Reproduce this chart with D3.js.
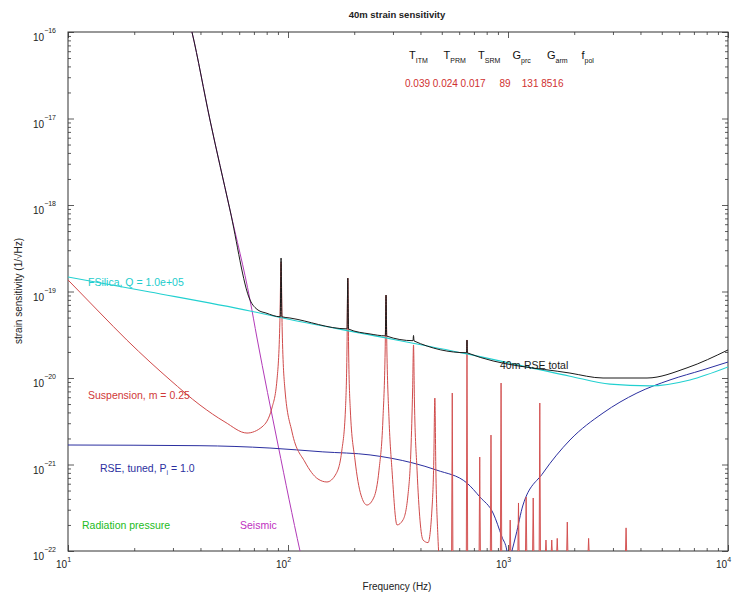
<!DOCTYPE html>
<html>
<head>
<meta charset="utf-8">
<script src="https://cdn.jsdelivr.net/npm/d3@7"></script>
<style>
  html, body { margin: 0; padding: 0; background: #fff; }
  svg text { font-family: "Liberation Sans", Arial, Helvetica, sans-serif; }
</style>
</head>
<body>
<svg id="chart" width="736" height="597"></svg>
<script>
// Axis decades
const xDecades = [1, 2, 3, 4];
const yDecades = [-22, -21, -20, -19, -18, -17, -16];

// Total noise (black), with violin-mode spikes
const totalFreq = [35.5, 36.6, 44.2, 54.5, 67.2, 73.1, 79.4, 92.2, 93, 93.8, 102, 185.5, 187, 188.5,
  236, 277, 279, 281, 370, 372, 374, 648, 651, 654, 1913, 2704, 4285, 6511, 10000];
const totalStrain = [1.38e-16, 1e-16, 9.6e-18, 8.75e-19, 7.98e-20, 6.1e-20, 5.64e-20, 5.1e-20, 2.44e-19, 5.1e-20,
  4.94e-20, 3.7e-20, 1.43e-19, 3.68e-20, 3.23e-20, 3.07e-20, 9.1e-20, 3.05e-20, 2.7e-20, 3.1e-20, 2.68e-20,
  1.96e-20, 2.75e-20, 1.95e-20, 1.14e-20, 1.0e-20, 1.0e-20, 1.31e-20, 2.11e-20];

// Fused silica test-mass thermal noise (cyan)
const thermalFreq = [10, 23.6, 67.2, 102, 236, 651, 1913, 2909, 4416, 6714, 10000];
const thermalStrain = [1.47e-19, 9.86e-20, 5.96e-20, 4.75e-20, 3.15e-20, 1.9e-20, 1.05e-20, 8.5e-21, 8.1e-21, 9.5e-21, 1.34e-20];

// Suspension thermal noise (red), low-order violin modes
const suspFreq = [10, 14, 18.5, 23.6, 29.1, 39.8, 51.7, 65.1, 76.2, 84.5, 89.1, 91.9, 93, 94.1, 96.9,
  104.3, 119.4, 136.8, 150.3, 165.2, 175.8, 182.4, 185.4, 187, 188.6, 192, 201.6, 214.7, 228.6, 246,
  259.2, 270, 276.5, 279, 281.5, 288, 297, 313, 333, 351, 362, 368.5, 372, 375.5, 386, 411, 433, 451,
  460, 465, 470, 480, 490];
const suspStrain = [1.36e-19, 5.64e-20, 2.75e-20, 1.53e-20, 9.5e-21, 4.87e-21, 3.1e-21, 2.31e-21, 2.72e-21,
  4.5e-21, 9.5e-21, 4.67e-20, 2.19e-19, 3.59e-20, 7.26e-21, 2.38e-21, 1.07e-21, 6.8e-22, 6.28e-22, 7.76e-22,
  1.47e-21, 4.27e-21, 2.11e-20, 1.43e-19, 2.11e-20, 4.27e-21, 1.13e-21, 4.43e-22, 3.4e-22, 4.2e-22, 8.6e-22,
  3.27e-21, 2.11e-20, 9.1e-20, 2.11e-20, 3.27e-21, 8.6e-22, 2.0e-22, 2.28e-22, 4.43e-22, 1.47e-21, 7.26e-21,
  2.41e-20, 5.57e-21, 8.6e-22, 1.34e-22, 1.25e-22, 2.98e-22, 1.13e-21, 5.87e-21, 8.6e-22, 1.5e-22, 6e-23];

// Higher violin-mode peaks of the suspension noise
const violinFreq = [558, 651, 744, 837, 930, 1023, 1116, 1209, 1302, 1395, 1488, 1581, 1674, 1860, 2325, 3441];
const violinPeak = [6.7e-21, 2.75e-20, 1.22e-21, 2.19e-21, 8.75e-21, 2.28e-22, 3.59e-22, 4.2e-22, 4.1e-22,
  5.14e-21, 1.34e-22, 1.34e-22, 1.4e-22, 2.16e-22, 1.4e-22, 1.85e-22];

// RSE shot noise (blue)
const shotFreq = [10, 39.8, 82.8, 144, 236, 370, 475, 651, 746, 855, 939, 989, 1005, 1042, 1087, 1170,
  1443, 1913, 2704, 3855, 5450, 7690, 10000];
const shotStrain = [1.68e-21, 1.65e-21, 1.55e-21, 1.4e-21, 1.29e-21, 1.04e-21, 8.6e-22, 6.1e-22, 4.2e-22,
  2.75e-22, 1.45e-22, 1e-22, 7e-23, 1e-22, 1.53e-22, 3.4e-22, 7.98e-22, 1.92e-21, 3.94e-21, 6.7e-21,
  9.5e-21, 1.24e-20, 1.53e-20];

// Seismic noise (magenta)
const seismicFreq = [35.5, 36.6, 44.2, 54.5, 67.2, 72.3, 90.1, 113.4, 117];
const seismicStrain = [1.38e-16, 1e-16, 9.6e-18, 8.75e-19, 7.98e-20, 2.9e-20, 1.68e-21, 1e-22, 7e-23];

// Interferometer parameters
const paramNames = ["T", "T", "T", "G", "G", "f"];
const paramSubs = ["ITM", "PRM", "SRM", "prc", "arm", "pol"];
const paramValues = ["0.039", "0.024", "0.017", "89", "131", "8516"];

const svg = d3.select("#chart");
const W = 736, H = 597;
const plot = { left: 68, right: 728, top: 32, bottom: 551 };

const x = d3.scaleLog().domain([10, 1e4]).range([plot.left, plot.right]);
const y = d3.scaleLog().domain([1e-22, 1e-16]).range([plot.bottom, plot.top]);

const axisColor = "#333";

// clip region for curves
svg.append("defs").append("clipPath").attr("id", "plotClip")
  .append("rect")
  .attr("x", plot.left).attr("y", plot.top)
  .attr("width", plot.right - plot.left).attr("height", plot.bottom - plot.top);

// minor / major tick values
const xMinor = [];
for (let e = 1; e < 4; e++) for (let k = 2; k <= 9; k++) xMinor.push(k * Math.pow(10, e));
const yMinor = [];
for (let e = -22; e < -16; e++) for (let k = 2; k <= 9; k++) yMinor.push(k * Math.pow(10, e));
const xMajor = xDecades.map(e => Math.pow(10, e));
const yMajor = yDecades.map(e => Math.pow(10, e));

function tickAxis(gen, scale, ticks, size, tx, ty) {
  const g = svg.append("g").attr("transform", `translate(${tx},${ty})`)
    .call(gen(scale).tickValues(ticks).tickSize(size).tickFormat(""));
  g.select(".domain").remove();
  g.selectAll(".tick line").attr("stroke", axisColor).attr("stroke-width", 0.8);
  return g;
}
// ticks point inward on all four sides
tickAxis(d3.axisBottom, x, xMinor, -3, 0, plot.bottom);
tickAxis(d3.axisBottom, x, xMajor, -6, 0, plot.bottom);
tickAxis(d3.axisTop, x, xMinor, -3, 0, plot.top);
tickAxis(d3.axisTop, x, xMajor, -6, 0, plot.top);
tickAxis(d3.axisLeft, y, yMinor, -3, plot.left, 0);
tickAxis(d3.axisLeft, y, yMajor, -6, plot.left, 0);
tickAxis(d3.axisRight, y, yMinor, -3, plot.right, 0);
tickAxis(d3.axisRight, y, yMajor, -6, plot.right, 0);

// frame
svg.append("rect")
  .attr("x", plot.left).attr("y", plot.top)
  .attr("width", plot.right - plot.left).attr("height", plot.bottom - plot.top)
  .attr("fill", "none").attr("stroke", axisColor).attr("stroke-width", 1);

// tick labels
const xLab = svg.append("g");
xDecades.forEach(e => {
  const t = xLab.append("text")
    .attr("x", x(Math.pow(10, e)) - 12).attr("y", 568)
    .attr("font-size", 10).attr("fill", "#222");
  t.append("tspan").text("10");
  t.append("tspan").attr("dy", -6).attr("font-size", 7).text(e);
});
const yLab = svg.append("g");
yDecades.forEach(e => {
  const t = yLab.append("text")
    .attr("x", 33).attr("y", y(Math.pow(10, e)) + 9)
    .attr("font-size", 10).attr("fill", "#222");
  t.append("tspan").text("10");
  t.append("tspan").attr("dy", -8).attr("font-size", 7).text("\u2212" + (-e));
});

// axis titles and chart title
svg.append("text").attr("x", 397).attr("y", 18).attr("text-anchor", "middle")
  .attr("font-size", 9.5).attr("font-weight", "bold").attr("fill", "#222")
  .text("40m strain sensitivity");
svg.append("text").attr("x", 397).attr("y", 590).attr("text-anchor", "middle")
  .attr("font-size", 10).attr("fill", "#222").text("Frequency (Hz)");
svg.append("text")
  .attr("transform", "translate(22,291) rotate(-90)")
  .attr("text-anchor", "middle").attr("font-size", 10).attr("fill", "#222")
  .text("strain sensitivity (1/\u221AHz)");

// curves
const curves = svg.append("g").attr("clip-path", "url(#plotClip)");
const line = d3.line().x(d => x(d[0])).y(d => y(d[1])).curve(d3.curveMonotoneX);
const zip = (a, b) => a.map((v, i) => [v, b[i]]);

function drawCurve(fr, val, color, width) {
  curves.append("path").datum(zip(fr, val))
    .attr("d", line).attr("fill", "none")
    .attr("stroke", color).attr("stroke-width", width)
    .attr("stroke-linejoin", "round");
}

drawCurve(seismicFreq, seismicStrain, "#b23ab8", 1);
drawCurve(shotFreq, shotStrain, "#2b2fa0", 1);
drawCurve(suspFreq, suspStrain, "#d04a4a", 1);

// higher violin peaks rise from below the floor of the plot
curves.append("g").selectAll("path")
  .data(zip(violinFreq, violinPeak))
  .join("path")
  .attr("d", d => `M${x(d[0] * 0.993)},${plot.bottom + 4}L${x(d[0])},${y(d[1])}L${x(d[0] * 1.007)},${plot.bottom + 4}`)
  .attr("fill", "#f0b0b0").attr("stroke", "#d04a4a").attr("stroke-width", 0.9);

drawCurve(thermalFreq, thermalStrain, "#22d0d0", 1.1);
drawCurve(totalFreq, totalStrain, "#1a1a1a", 1);

// curve labels
const labels = [
  { t: "FSilica, Q = 1.0e+05", x: 88, y: 286, c: "#22cccc" },
  { t: "Suspension, m = 0.25", x: 88, y: 399, c: "#d03838" },
  { t: "Radiation pressure", x: 82, y: 529, c: "#22bb22" },
  { t: "Seismic", x: 240, y: 529, c: "#c030c0" },
  { t: "40m-RSE total", x: 500, y: 369, c: "#1a1a1a" }
];
svg.append("g").selectAll("text").data(labels).join("text")
  .attr("x", d => d.x).attr("y", d => d.y).attr("fill", d => d.c)
  .attr("font-size", 10.5).text(d => d.t);

const rse = svg.append("text").attr("x", 100).attr("y", 472)
  .attr("fill", "#2b2fa0").attr("font-size", 10.5);
rse.append("tspan").text("RSE, tuned, P");
rse.append("tspan").attr("dy", 3).attr("font-size", 7).text("i");
rse.append("tspan").attr("dy", -3).text(" = 1.0");

// parameter table
const tbl = svg.append("g");
paramNames.forEach((n, i) => {
  const t = tbl.append("text").attr("x", 409 + i * 34.5).attr("y", 59)
    .attr("font-size", 11).attr("fill", "#111");
  t.append("tspan").text(n);
  t.append("tspan").attr("dy", 4).attr("font-size", 7).text(paramSubs[i]);
});
tbl.append("text").attr("x", 405).attr("y", 87)
  .attr("font-size", 10).attr("fill", "#d03030")
  .attr("xml:space", "preserve").style("white-space", "pre")
  .text(paramValues.slice(0, 3).join(" ") + "     " + paramValues[3] + "    " + paramValues[4] + " " + paramValues[5]);
</script>
</body>
</html>
